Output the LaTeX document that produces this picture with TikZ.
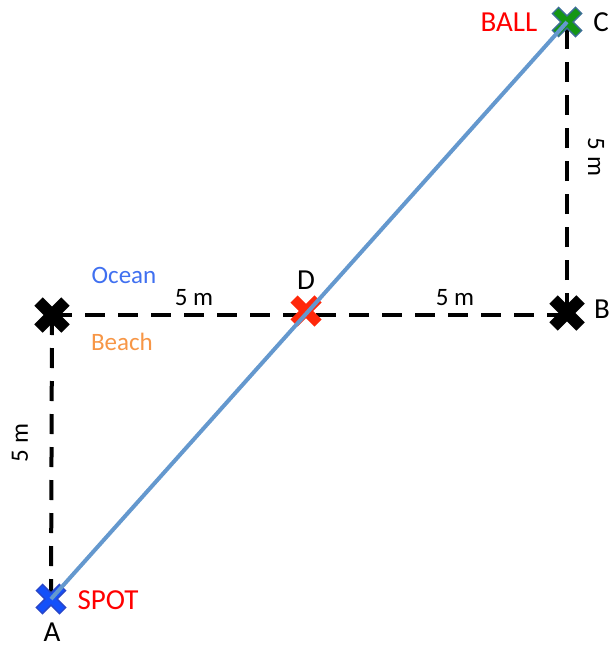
\documentclass[tikz,border=0pt]{standalone}
\usepackage{fontspec}
\setmainfont{Carlito}
\definecolor{lineblue}{RGB}{100,152,206}
\definecolor{oceanblue}{RGB}{64,112,240}
\definecolor{beachorange}{RGB}{247,150,70}
\definecolor{xblue}{RGB}{20,80,250}
\definecolor{xblueedge}{RGB}{40,70,200}
\definecolor{xgreen}{RGB}{20,150,20}
\definecolor{xgreenedge}{RGB}{60,110,150}
\definecolor{xred}{RGB}{255,40,10}
\begin{document}
\begin{tikzpicture}[x=1pt,y=-1pt,
  dimline/.style={line width=4pt,dash pattern=on 20pt off 13pt},
  pathline/.style={line width=4pt,lineblue},
  lbl/.style={font=\fontsize{29}{29}\selectfont,inner sep=0pt},
  small/.style={font=\fontsize{25}{25}\selectfont,inner sep=0pt},
  xmark/.pic={\draw[line width=12pt,#1] (-13.5,-13.5)--(13.5,13.5) (-13.5,13.5)--(13.5,-13.5);},
  cmark/.pic={\draw[line width=10pt,#1] (-12,-12)--(12,12) (-12,12)--(12,-12);},
  cfill/.pic={\draw[line width=7pt,#1] (-11,-11)--(11,11) (-11,11)--(11,-11);},
]
\useasboundingbox (0,0) rectangle (611,650);
\coordinate (A) at (51,599);
\coordinate (E) at (52,315);
\coordinate (D) at (306,311);
\coordinate (B) at (567,313);
\coordinate (C) at (567,22);
% dashed lines
\draw[dimline] (E) -- (A);
\draw[dimline] (E) -- ++(514,0) coordinate (B0);
\draw[dimline] (B) -- (C);
% crosses
\pic at (E) {xmark=black};
\pic at (B) {xmark=black};
\pic at (D) {cmark=xred};
\pic at (A) {cmark=xblueedge};
\pic at (A) {cfill=xblue};
\pic at (C) {cmark=xgreenedge};
\pic at (C) {cfill=xgreen};
% path
\draw[pathline] (A) -- (C);
% labels
\node[lbl] (la) at (52,632) {A};
\node[lbl] (lb) at (602,309) {B};
\node[lbl] (lc) at (601,22) {C};
\node[lbl] (ld) at (306,280) {D};
\node[lbl,red] (ball) at (509,22) {BALL};
\node[lbl,red] (spot) at (108,600) {SPOT};
\node[small,oceanblue] (ocean) at (124,275) {Ocean};
\node[small,beachorange] (beach) at (122,342) {Beach};
\node[small] (d1) at (194,298) {5 m};
\node[small] (d2) at (455,298) {5 m};
\node[small,rotate=-90] (d3) at (596,157) {5 m};
\node[small,rotate=90] (d4) at (20,443) {5 m};
\end{tikzpicture}
\end{document}
